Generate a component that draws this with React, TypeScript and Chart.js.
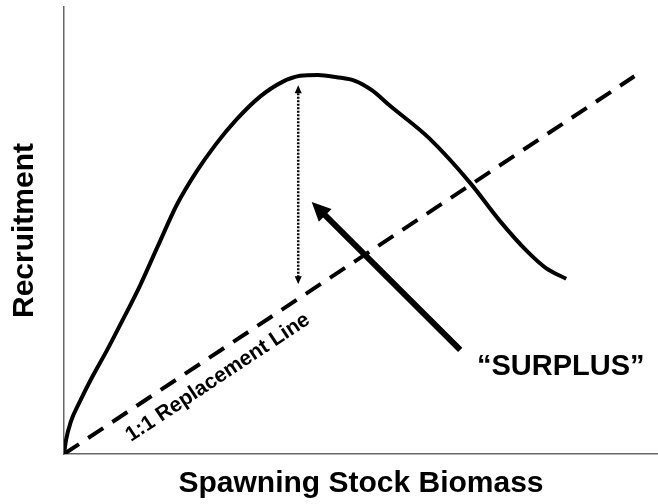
import React, { useEffect, useRef } from "react";
import { Chart, registerables } from "chart.js";

Chart.register(...registerables);

// Stock-recruitment curve (spawning stock biomass vs recruitment)
const ssb = [0, 0.3, 1.0, 2.4, 4.1, 6.4, 8.7, 11.3, 13.9, 16.7, 19.6, 22.4, 25.6, 29.0, 32.3, 35.0, 37.6, 40.4, 43.1, 45.6, 48.3, 54.2, 60.2, 64.6, 68.7, 71.4, 74.4];
const recruitment = [0, 3.1, 7.2, 11.9, 17.0, 23.3, 30.0, 37.8, 46.5, 55.7, 63.1, 69.1, 74.9, 79.9, 83.2, 84.6, 84.8, 84.3, 83.5, 81.4, 77.9, 70.5, 60.6, 52.1, 45.2, 41.6, 39.2];

// 1:1 replacement line
const replacementX = [0, 84.5];
const replacementY = [0, 84.5];

// dotted double-headed "surplus" arrow
const surplusArrowX = [34.7, 34.7];
const surplusArrowY = [38.0, 82.5];

// thick pointer arrow (tail -> head)
const pointerX = [58.7, 36.7];
const pointerY = [23.3, 56.4];

// labels
const surplusLabel = "\u201CSURPLUS\u201D";
const surplusLabelPos = [73.6, 19.5];
const replacementLabel = "1:1 Replacement Line";
const replacementLabelPos = [22.8, 17.1];
const xTitle = "Spawning Stock Biomass";
const yTitle = "Recruitment";

const FONT = "'Liberation Sans', Arial, Helvetica, sans-serif";

function arrowHead(ctx: CanvasRenderingContext2D, x1: number, y1: number, x2: number, y2: number, len: number, width: number) {
  const a = Math.atan2(y2 - y1, x2 - x1);
  const c = Math.cos(a);
  const s = Math.sin(a);
  const bx = x2 - len * c;
  const by = y2 - len * s;
  ctx.beginPath();
  ctx.moveTo(x2, y2);
  ctx.lineTo(bx + (width / 2) * s, by - (width / 2) * c);
  ctx.lineTo(bx - (width / 2) * s, by + (width / 2) * c);
  ctx.closePath();
  ctx.fill();
}

const annotationPlugin = {
  id: "annotations",
  afterDatasetsDraw(chart: any) {
    const ctx: CanvasRenderingContext2D = chart.ctx;
    const xs = chart.scales.x;
    const ys = chart.scales.y;
    ctx.save();
    ctx.fillStyle = "#000";
    ctx.strokeStyle = "#000";

    // dotted double arrow
    {
      const x = xs.getPixelForValue(surplusArrowX[0]);
      const yb = ys.getPixelForValue(surplusArrowY[0]);
      const yt = ys.getPixelForValue(surplusArrowY[1]);
      const head = 8;
      ctx.lineWidth = 2.5;
      ctx.setLineDash([2, 1.5]);
      ctx.beginPath();
      ctx.moveTo(x, yb - head + 1);
      ctx.lineTo(x, yt + head - 1);
      ctx.stroke();
      ctx.setLineDash([]);
      arrowHead(ctx, x, yt + 10, x, yt, head, 7);
      arrowHead(ctx, x, yb - 10, x, yb, head, 7);
    }

    // thick pointer arrow
    {
      const x1 = xs.getPixelForValue(pointerX[0]);
      const y1 = ys.getPixelForValue(pointerY[0]);
      const x2 = xs.getPixelForValue(pointerX[1]);
      const y2 = ys.getPixelForValue(pointerY[1]);
      const len = 19;
      const a = Math.atan2(y2 - y1, x2 - x1);
      ctx.lineWidth = 6;
      ctx.lineCap = "butt";
      ctx.beginPath();
      ctx.moveTo(x1, y1);
      ctx.lineTo(x2 - len * 0.8 * Math.cos(a), y2 - len * 0.8 * Math.sin(a));
      ctx.stroke();
      arrowHead(ctx, x1, y1, x2, y2, len, 18);
    }

    // SURPLUS label
    ctx.font = `bold 29px ${FONT}`;
    ctx.textAlign = "center";
    ctx.textBaseline = "middle";
    ctx.fillText(surplusLabel, xs.getPixelForValue(surplusLabelPos[0]), ys.getPixelForValue(surplusLabelPos[1]));

    // Replacement line label, rotated along the line
    {
      const lx1 = xs.getPixelForValue(replacementX[0]);
      const ly1 = ys.getPixelForValue(replacementY[0]);
      const lx2 = xs.getPixelForValue(replacementX[1]);
      const ly2 = ys.getPixelForValue(replacementY[1]);
      const ang = Math.atan2(ly2 - ly1, lx2 - lx1);
      ctx.translate(xs.getPixelForValue(replacementLabelPos[0]), ys.getPixelForValue(replacementLabelPos[1]));
      ctx.rotate(ang);
      ctx.font = `bold 21px ${FONT}`;
      ctx.fillText(replacementLabel, 0, 0);
    }
    ctx.restore();
  },
};

export default function App() {
  const canvasRef = useRef<HTMLCanvasElement | null>(null);

  useEffect(() => {
    const canvas = canvasRef.current;
    if (!canvas) return;
    const chart = new Chart(canvas, {
      type: "line",
      data: {
        datasets: [
          {
            label: "Recruitment",
            data: ssb.map((x, i) => ({ x, y: recruitment[i] })),
            borderColor: "#000",
            borderWidth: 4,
            pointRadius: 0,
            cubicInterpolationMode: "monotone",
            fill: false,
          },
          {
            label: "1:1 Replacement Line",
            data: replacementX.map((x, i) => ({ x, y: replacementY[i] })),
            borderColor: "#000",
            borderWidth: 4,
            borderDash: [18, 11],
            pointRadius: 0,
            fill: false,
          },
        ],
      },
      options: {
        responsive: false,
        animation: false,
        events: [],
        layout: { padding: { left: 7, top: 7, right: 0, bottom: 2 } },
        plugins: {
          legend: { display: false },
          tooltip: { enabled: false },
        },
        scales: {
          x: {
            type: "linear",
            min: 0,
            max: 88,
            grid: { display: false, drawTicks: false },
            ticks: { display: false },
            border: { display: true, color: "#666", width: 1.5 },
            title: {
              display: true,
              text: xTitle,
              color: "#000",
              font: { family: FONT, size: 30, weight: "bold", lineHeight: 1.2 },
              padding: { top: 12, bottom: 0 },
            },
          },
          y: {
            type: "linear",
            min: 0,
            max: 100,
            grid: { display: false, drawTicks: false },
            ticks: { display: false },
            border: { display: true, color: "#666", width: 1.5 },
            title: {
              display: true,
              text: yTitle,
              color: "#000",
              font: { family: FONT, size: 30, weight: "bold", lineHeight: 1.2 },
              padding: { top: 0, bottom: 21 },
            },
          },
        },
      },
      plugins: [annotationPlugin],
    });
    return () => chart.destroy();
  }, []);

  return (
    <div style={{ position: "fixed", left: 0, top: 0, width: 658, height: 504, background: "#fff" }}>
      <canvas ref={canvasRef} width={658} height={504} style={{ display: "block" }} />
    </div>
  );
}
